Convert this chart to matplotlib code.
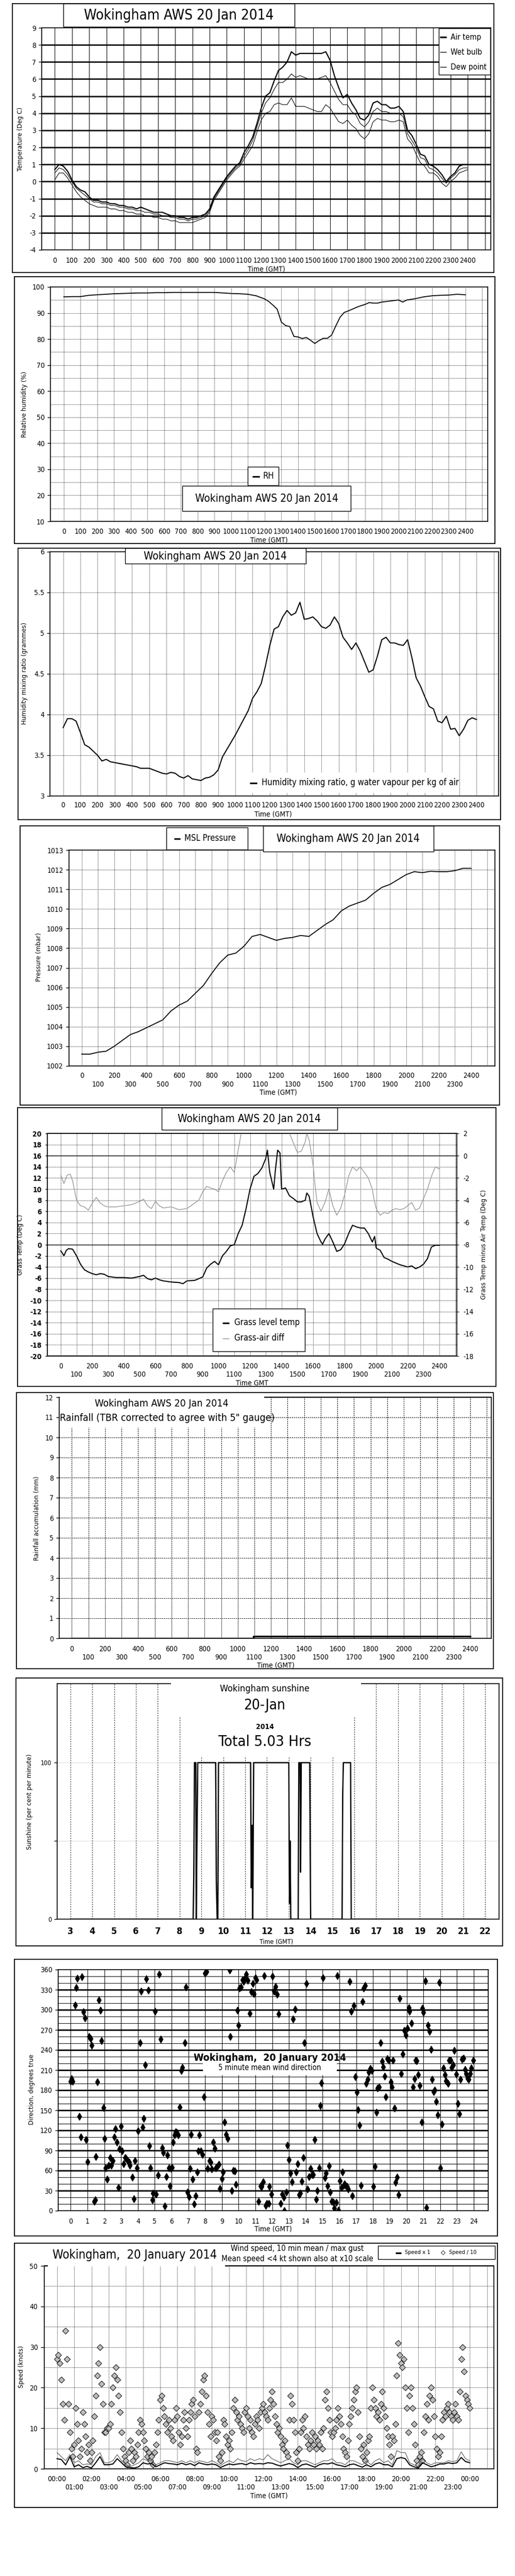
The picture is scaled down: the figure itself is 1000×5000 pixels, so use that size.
import numpy as np
import matplotlib
matplotlib.use('Agg')
import matplotlib.pyplot as plt
from matplotlib.patches import Rectangle
from matplotlib.lines import Line2D
from matplotlib.font_manager import FontProperties, fontManager

# ---------------- fonts ----------------
_names = {f.name for f in fontManager.ttflist}
if 'Liberation Sans Narrow' in _names:
    NF, NS = 'Liberation Sans Narrow', 'normal'
elif any('DejaVuSansCondensed' in f.fname for f in fontManager.ttflist):
    NF, NS = 'DejaVu Sans', 'condensed'
else:
    NF, NS = 'Liberation Sans', 'normal'
WF = 'DejaVu Sans'


def NP(size, weight='normal'):
    return FontProperties(family=NF, stretch=NS, size=size, weight=weight)


def WP(size):
    return FontProperties(family=WF, size=size)

# ---------------- data ----------------
# 15-minute grid, hours 0..24
t15 = [i * 0.25 for i in range(97)]

air_temp = [0.7, 1.0, 0.9, 0.6, 0.1, -0.3, -0.5, -0.6, -0.9, -1.1, -1.1, -1.2,
            -1.2, -1.3, -1.3, -1.4, -1.4, -1.5, -1.5, -1.6, -1.5, -1.6, -1.7, -1.8,
            -1.8, -1.8, -1.9, -2.0, -2.0, -2.1, -2.1, -2.2, -2.1, -2.1, -2.0, -1.9,
            -1.6, -0.9, -0.5, -0.1, 0.3, 0.6, 0.9, 1.1, 1.7, 2.1, 2.6, 3.4,
            4.3, 5.0, 5.2, 5.9, 6.5, 6.7, 7.0, 7.6, 7.4, 7.5, 7.5, 7.5,
            7.5, 7.5, 7.5, 7.6, 7.1, 6.2, 5.5, 4.9, 5.1, 4.6, 4.2, 3.7,
            3.6, 3.9, 4.6, 4.7, 4.5, 4.5, 4.3, 4.3, 4.4, 4.1, 3.0, 2.7,
            2.2, 1.6, 1.5, 1.0, 0.9, 0.7, 0.4, 0.0, 0.3, 0.5, 0.9, 1.0, 1.0]
wet_bulb = [0.5, 0.8, 0.7, 0.4, 0.0, -0.4, -0.6, -0.8, -1.0, -1.2, -1.2, -1.3,
            -1.3, -1.4, -1.4, -1.5, -1.5, -1.6, -1.6, -1.7, -1.7, -1.8, -1.8, -1.9,
            -1.9, -2.0, -2.0, -2.1, -2.1, -2.2, -2.2, -2.3, -2.2, -2.2, -2.1, -2.0,
            -1.7, -1.0, -0.6, -0.2, 0.2, 0.5, 0.8, 1.0, 1.5, 1.9, 2.4, 3.2,
            4.0, 4.6, 4.9, 5.4, 5.8, 5.8, 6.0, 6.3, 6.1, 6.2, 6.1, 6.0,
            6.0, 6.0, 6.1, 6.2, 5.8, 5.3, 4.8, 4.5, 4.5, 4.1, 3.9, 3.4,
            3.2, 3.5, 4.1, 4.3, 4.1, 4.1, 4.0, 4.0, 4.0, 3.8, 2.8, 2.4,
            2.0, 1.4, 1.3, 0.8, 0.7, 0.5, 0.2, -0.1, 0.2, 0.4, 0.7, 0.8, 0.8]
dew_point = [0.1, 0.5, 0.5, 0.2, -0.2, -0.6, -0.9, -1.1, -1.3, -1.4, -1.5, -1.5,
             -1.5, -1.6, -1.6, -1.7, -1.7, -1.8, -1.8, -1.9, -1.9, -2.0, -2.0, -2.1,
             -2.1, -2.2, -2.2, -2.3, -2.3, -2.4, -2.4, -2.4, -2.4, -2.3, -2.2, -2.1,
             -1.8, -1.1, -0.7, -0.3, 0.1, 0.4, 0.7, 0.9, 1.3, 1.7, 2.1, 2.9,
             3.6, 4.0, 4.1, 4.5, 4.6, 4.5, 4.5, 4.9, 4.4, 4.4, 4.4, 4.3,
             4.2, 4.1, 4.1, 4.5, 4.3, 3.9, 3.5, 3.4, 3.6, 3.3, 3.1, 2.7,
             2.5, 2.8, 3.5, 3.7, 3.6, 3.6, 3.5, 3.5, 3.6, 3.5, 2.5, 2.2,
             1.6, 1.1, 0.9, 0.5, 0.5, 0.3, -0.1, -0.3, 0.0, 0.2, 0.5, 0.6, 0.7]

rh_t = [0, 0.5, 1, 1.5, 2, 2.5, 3, 3.5, 4, 4.5, 5, 5.5, 6, 6.5, 7, 7.5, 8, 8.5, 9, 9.5,
        10, 10.5, 11, 11.5, 12, 12.25, 12.5, 12.75, 13, 13.25, 13.5, 13.75, 14, 14.25,
        14.5, 14.75, 15, 15.25, 15.5, 15.75, 16, 16.25, 16.5, 16.75, 17, 17.25, 17.5,
        17.75, 18, 18.25, 18.5, 18.75, 19, 19.5, 20, 20.25, 20.5, 21, 21.5, 22, 22.5,
        23, 23.5, 24]
rh_v = [96.2, 96.3, 96.3, 96.8, 97.0, 97.2, 97.4, 97.5, 97.6, 97.7, 97.7, 97.8, 97.8,
        97.9, 97.9, 97.9, 97.9, 97.9, 97.9, 97.7, 97.5, 97.4, 97.2, 96.6, 95.4,
        94.4, 93.0, 91.5, 86.5, 85.2, 84.8, 81.0, 80.8, 80.2, 80.6, 79.5, 78.3, 79.4,
        80.3, 80.3, 81.5, 85.0, 88.3, 90.2, 90.8, 91.5, 92.2, 92.8, 93.3, 94.0, 93.8,
        93.8, 94.2, 94.6, 95.0, 94.2, 95.0, 95.5, 96.2, 96.6, 96.8, 96.9, 97.2, 97.0]

mix_ratio = [3.84, 3.95, 3.95, 3.92, 3.78, 3.63, 3.60, 3.55, 3.50, 3.43, 3.45, 3.42,
             3.41, 3.40, 3.39, 3.38, 3.37, 3.36, 3.34, 3.34, 3.34, 3.32, 3.30, 3.28,
             3.27, 3.29, 3.28, 3.24, 3.22, 3.25, 3.21, 3.20, 3.19, 3.22, 3.23, 3.26,
             3.32, 3.48, 3.57, 3.66, 3.75, 3.85, 3.95, 4.05, 4.20, 4.28, 4.38, 4.60,
             4.85, 5.05, 5.08, 5.20, 5.28, 5.22, 5.25, 5.38, 5.17, 5.18, 5.20, 5.15,
             5.08, 5.06, 5.10, 5.20, 5.12, 4.95, 4.88, 4.80, 4.88, 4.78, 4.65, 4.52,
             4.55, 4.72, 4.92, 4.95, 4.88, 4.88, 4.86, 4.85, 4.92, 4.70, 4.45, 4.35,
             4.22, 4.10, 4.07, 3.92, 3.90, 3.98, 3.82, 3.83, 3.74, 3.82, 3.93, 3.96, 3.94]

t30 = [i * 0.5 for i in range(49)]
pressure = [1002.6, 1002.6, 1002.7, 1002.75, 1003.0, 1003.3, 1003.6, 1003.75, 1003.95,
            1004.15, 1004.35, 1004.8, 1005.1, 1005.3, 1005.7, 1006.1, 1006.7, 1007.25,
            1007.65, 1007.75, 1008.1, 1008.6, 1008.7, 1008.55, 1008.4, 1008.5, 1008.55,
            1008.65, 1008.6, 1008.9, 1009.2, 1009.45, 1009.9, 1010.15, 1010.3, 1010.45,
            1010.8, 1011.1, 1011.25, 1011.5, 1011.75, 1011.9, 1011.85, 1011.92, 1011.9,
            1011.9, 1011.95, 1012.07, 1012.07]

grass_t = [0.0, 0.1, 0.2, 0.35, 0.5, 0.75, 1.0, 1.25, 1.5, 1.75, 2.0, 2.25, 2.5, 2.75,
           3.0, 3.5, 4.0, 4.5, 5.0, 5.25, 5.5, 5.75, 6.0, 6.25, 6.5, 7.0, 7.5, 7.75, 8.0,
           8.5, 9.0, 9.25, 9.5, 9.75, 10.0, 10.25, 10.5, 10.75, 11.0, 11.25, 11.5, 11.75,
           12.0, 12.25, 12.5, 12.75, 13.0, 13.1, 13.25, 13.5, 13.6, 13.75, 13.9, 14.0,
           14.25, 14.5, 14.75, 15.0, 15.25, 15.5, 15.6, 15.75, 16.0, 16.25, 16.5, 16.6,
           16.75, 17.0, 17.25, 17.5, 17.75, 18.0, 18.25, 18.5, 18.75, 19.0, 19.25, 19.5,
           19.75, 19.9, 20.0, 20.25, 20.5, 20.75, 21.0, 21.25, 21.5, 21.75, 22.0, 22.25,
           22.5, 22.75, 23.0, 23.25, 23.5, 23.75, 24.0]
grass_v = [-1.1, -1.5, -2.0, -1.0, -0.7, -0.8, -2.0, -3.5, -4.5, -4.9, -5.2, -5.4, -5.2,
           -5.3, -5.7, -5.9, -5.9, -6.0, -5.7, -5.5, -6.1, -6.3, -6.0, -6.3, -6.5, -6.7,
           -6.8, -7.0, -6.5, -6.4, -5.8, -4.2, -3.5, -3.0, -3.6, -2.0, -1.2, -0.2, 0.0,
           2.0, 3.5, 6.5, 10.0, 12.3, 12.8, 13.8, 15.5, 17.0, 13.0, 10.0, 13.2, 17.0, 16.5,
           10.0, 10.2, 8.8, 8.3, 7.7, 7.7, 8.0, 9.3, 8.7, 5.0, 2.0, 0.5, 0.1, 1.0, 2.0, 0.5,
           -1.2, -0.9, 0.2, 2.0, 3.5, 3.2, 3.0, 3.0, 2.0, 0.5, 1.5, -0.6, -1.0, -2.3, -2.6,
           -3.0, -3.3, -3.6, -3.8, -4.0, -3.8, -4.3, -4.0, -3.5, -2.5, -0.4, -0.1, -0.1]

diff_t = [0.0, 0.2, 0.4, 0.6, 0.75, 1.0, 1.25, 1.5, 1.75, 2.0, 2.25, 2.5, 2.75, 3.0, 3.5,
          4.0, 4.5, 5.0, 5.25, 5.5, 5.75, 6.0, 6.25, 6.5, 7.0, 7.5, 8.0, 8.5, 8.75, 9.0,
          9.25, 9.5, 9.75, 10.0, 10.25, 10.5, 10.75, 11.0, 11.25, 11.5, 12.0, 13.0, 13.5,
          14.0, 14.5, 15.0, 15.25, 15.5, 15.6, 15.75, 16.0, 16.1, 16.25, 16.5, 16.75,
          17.0, 17.25, 17.5, 17.75, 18.0, 18.25, 18.5, 18.75, 19.0, 19.25, 19.5, 19.75,
          19.85, 20.0, 20.25, 20.5, 20.75, 21.0, 21.25, 21.5, 21.75, 22.0, 22.25, 22.5,
          22.75, 23.0, 23.25, 23.5, 23.75, 24.0]
diff_v = [-1.75, -2.5, -1.75, -1.65, -2.25, -4.0, -4.5, -4.6, -4.9, -4.25, -3.75, -4.25,
          -4.5, -4.6, -4.6, -4.5, -4.4, -4.1, -3.9, -4.5, -4.75, -4.1, -4.5, -4.7, -4.6,
          -4.85, -4.75, -4.25, -4.0, -3.25, -2.75, -2.9, -3.0, -3.25, -2.25, -1.5, -1.0,
          -1.5, 0.5, 2.5, 5.0, 9.0, 4.0, 2.6, 2.0, 0.3, 0.4, 1.25, 2.0, 1.4, -0.85, -2.35,
          -4.2, -5.0, -4.2, -3.0, -4.5, -5.35, -4.7, -3.5, -1.85, -1.0, -1.35, -1.0, -1.5,
          -2.0, -3.0, -3.85, -4.75, -5.35, -5.1, -5.2, -4.9, -4.75, -4.85, -4.75, -4.5,
          -4.2, -4.9, -4.7, -3.85, -3.0, -1.85, -1.0, -1.2]

rain_t = [0.0, 10.93, 10.93, 24.0]
rain_v = [0.0, 0.0, 0.1, 0.1]

sun_t = [3.0, 8.62, 8.65, 8.68, 8.74, 8.76, 8.80, 8.83, 9.65, 9.68, 9.72, 9.75, 9.78,
         11.25, 11.28, 11.32, 11.35, 11.39, 13.00, 13.03, 13.06, 13.09, 13.12, 13.43,
         13.46, 13.52, 13.54, 13.57, 13.96, 13.98, 14.00, 15.44, 15.47, 15.50, 15.83,
         15.86, 22.0]
sun_v = [0, 0, 30, 100, 100, 0, 60, 100, 100, 25, 0, 0, 100, 100, 20, 60, 0, 100, 100,
         10, 50, 0, 0, 0, 100, 100, 30, 100, 100, 45, 0, 0, 80, 100, 100, 0, 0]

# 5-minute mean wind direction observations (hour, degrees)
wind_dir_obs = [
    (0.00, 193), (0.05, 197), (0.10, 193), (0.26, 307), (0.32, 333), (0.40, 347), (0.50, 141),
    (0.60, 110), (0.67, 349), (0.75, 297), (0.85, 288), (0.91, 106), (0.99, 73), (1.09, 260),
    (1.17, 257), (1.25, 247), (1.39, 14), (1.45, 16), (1.50, 81), (1.58, 192), (1.68, 315),
    (1.76, 299), (1.84, 254), (1.94, 154), (2.00, 108), (2.08, 64), (2.18, 47), (2.26, 68),
    (2.34, 79), (2.42, 68), (2.50, 75), (2.59, 110), (2.67, 122), (2.75, 102), (2.83, 35),
    (2.91, 92), (3.00, 126), (3.07, 89), (3.15, 70), (3.23, 79), (3.31, 78), (3.39, 75),
    (3.47, 72), (3.52, 68), (3.66, 50), (3.76, 18), (3.82, 75), (3.94, 64), (4.02, 119),
    (4.12, 251), (4.18, 328), (4.28, 125), (4.34, 138), (4.43, 218), (4.51, 346), (4.61, 329),
    (4.67, 97), (4.75, 64), (4.85, 16), (4.91, 26), (5.01, 298), (5.09, 25), (5.19, 53),
    (5.27, 353), (5.37, 256), (5.45, 94), (5.50, 87), (5.60, 7), (5.70, 51), (5.76, 83),
    (5.86, 64), (5.92, 37), (5.98, 63), (6.04, 65), (6.10, 102), (6.18, 113), (6.24, 118),
    (6.32, 117), (6.40, 113), (6.50, 155), (6.57, 209), (6.65, 214), (6.81, 251), (6.87, 334),
    (6.95, 28), (7.03, 21), (7.09, 63), (7.17, 114), (7.27, 47), (7.35, 10), (7.43, 22),
    (7.52, 58), (7.58, 89), (7.66, 113), (7.76, 89), (7.84, 84), (7.92, 170), (8.00, 355),
    (8.08, 357), (8.16, 63), (8.26, 75), (8.32, 72), (8.40, 62), (8.48, 102), (8.57, 93),
    (8.65, 64), (8.73, 66), (8.81, 69), (8.89, 33), (8.99, 48), (9.07, 58), (9.15, 132),
    (9.25, 114), (9.33, 108), (9.45, 359), (9.50, 260), (9.60, 30), (9.68, 60), (9.78, 59),
    (9.84, 39), (9.92, 299), (10.00, 277), (10.06, 332), (10.14, 334), (10.22, 345),
    (10.30, 342), (10.38, 348), (10.46, 353), (10.55, 344), (10.67, 295), (10.75, 327),
    (10.83, 339), (10.91, 324), (10.99, 348), (11.07, 345), (11.19, 14), (11.29, 37),
    (11.37, 36), (11.45, 43), (11.52, 351), (11.60, 8), (11.68, 11), (11.78, 11), (11.84, 36),
    (11.94, 25), (12.02, 350), (12.10, 328), (12.20, 335), (12.28, 323), (12.38, 294),
    (12.51, 11), (12.59, 25), (12.67, 20), (12.73, 0), (12.85, 28), (12.91, 98), (12.99, 76),
    (13.09, 56), (13.17, 43), (13.25, 286), (13.35, 301), (13.43, 58), (13.50, 70),
    (13.60, 24), (13.68, 26), (13.76, 44), (13.84, 79), (13.92, 251), (14.02, 339),
    (14.10, 32), (14.20, 51), (14.28, 63), (14.36, 54), (14.44, 54), (14.51, 106), (14.61, 17),
    (14.69, 30), (14.79, 64), (14.85, 157), (14.93, 191), (15.03, 348), (15.13, 49),
    (15.19, 56), (15.29, 37), (15.37, 67), (15.45, 28), (15.54, 14), (15.62, 13), (15.70, 4),
    (15.80, 12), (15.86, 351), (15.94, 1), (16.02, 45), (16.12, 35), (16.18, 58), (16.24, 38),
    (16.30, 40), (16.38, 38), (16.46, 36), (16.53, 32), (16.61, 342), (16.69, 298),
    (16.77, 22), (16.87, 306), (16.95, 200), (17.03, 177), (17.11, 151), (17.19, 128),
    (17.29, 38), (17.37, 312), (17.45, 332), (17.52, 336), (17.60, 190), (17.68, 196),
    (17.76, 207), (17.84, 212), (17.92, 209), (18.02, 36), (18.10, 66), (18.20, 147),
    (18.28, 183), (18.36, 185), (18.46, 251), (18.53, 223), (18.61, 215), (18.69, 201),
    (18.77, 170), (18.85, 227), (18.93, 225), (19.05, 192), (19.11, 185), (19.19, 225),
    (19.27, 153), (19.33, 42), (19.43, 50), (19.52, 24), (19.60, 317), (19.68, 205),
    (19.78, 234), (19.86, 269), (19.94, 262), (20.04, 272), (20.14, 303), (20.18, 298),
    (20.30, 280), (20.38, 185), (20.46, 197), (20.53, 225), (20.61, 224), (20.69, 203),
    (20.77, 187), (20.89, 132), (20.93, 302), (21.01, 296), (21.13, 343), (21.19, 5),
    (21.27, 277), (21.37, 268), (21.45, 241), (21.52, 196), (21.60, 178), (21.68, 180),
    (21.76, 163), (21.84, 143), (21.94, 341), (22.02, 64), (22.10, 129), (22.18, 213),
    (22.28, 203), (22.34, 194), (22.46, 190), (22.53, 225), (22.61, 225), (22.69, 214),
    (22.77, 218), (22.85, 239), (22.95, 204), (23.05, 160), (23.13, 145), (23.21, 196),
    (23.29, 226), (23.39, 228), (23.47, 211), (23.54, 205), (23.62, 198), (23.70, 196),
    (23.78, 205), (23.86, 213), (23.96, 225)]
wd_hours = [p[0] for p in wind_dir_obs]
wd_deg = [p[1] for p in wind_dir_obs]

# wind speed: 5-minute "x10" diamonds, 15-minute mean and gust lines
t5 = [i / 12 for i in range(289)]
speed_x10 = [27, 28, 26, 22, 16, 12, 34, 27, 16, 9, 5, 3,
             6, 15, 11, 7, 3, 5, 14, 11, 8, 4, 6, 2,
             4, 7, 13, 18, 23, 26, 30, 21, 16, 9, 9, 10,
             10, 11, 16, 20, 23, 25, 22, 18, 14, 9, 5, 3,
             2, 1, 4, 7, 5, 2, 4, 3, 6, 9, 12, 11,
             9, 7, 5, 3, 4, 2, 3, 1, 4, 6, 9, 12,
             17, 18, 15, 13, 11, 9, 12, 10, 8, 7, 12, 15,
             13, 9, 6, 8, 12, 14, 10, 8, 12, 14, 16, 17,
             13, 5, 4, 14, 16, 19, 22, 23, 18, 14, 11, 8,
             13, 12, 9, 7, 9, 3, 2, 4, 12, 11, 8, 6,
             7, 5, 9, 15, 17, 14, 12, 13, 11, 10, 9, 14,
             15, 13, 10, 12, 9, 8, 11, 13, 12, 10, 14, 15,
             16, 14, 13, 12, 15, 17, 19, 16, 13, 11, 9, 10,
             8, 6, 5, 7, 4, 3, 12, 18, 16, 12, 9, 4,
             2, 5, 9, 12, 10, 13, 8, 6, 5, 7, 9, 6,
             8, 5, 7, 6, 9, 5, 10, 17, 19, 15, 12, 9,
             8, 9, 10, 12, 15, 13, 11, 8, 5, 4, 3, 7,
             11, 13, 15, 17, 19, 20, 14, 8, 5, 3, 6, 2,
             4, 7, 8, 15, 20, 17, 15, 13, 14, 12, 16, 19,
             15, 13, 10, 8, 6, 3, 8, 7, 11, 23, 31, 28,
             26, 25, 27, 20, 15, 9, 18, 20, 15, 11, 6, 2,
             1, 3, 4, 2, 9, 13, 16, 12, 18, 20, 17, 13,
             8, 5, 3, 4, 8, 12, 14, 13, 15, 16, 14, 13,
             12, 14, 16, 13, 12, 19, 27, 30, 24, 18, 17, 16,
             15]
mean_speed = [2.5, 2.3, 1.0, 3.0, 0.5, 1.0, 0.3, 0.6, 0.2, 1.5, 3.0, 1.0,
              1.0, 1.2, 2.5, 1.5, 0.5, 0.3, 0.2, 0.5, 1.5, 1.2, 1.3, 0.5,
              1.0, 1.5, 1.3, 1.2, 1.0, 1.4, 1.0, 1.3, 0.8, 1.5, 1.2, 1.0,
              1.2, 1.0, 0.3, 0.8, 1.2, 1.0, 1.2, 1.3, 1.0, 1.5, 1.2, 1.3,
              1.2, 1.5, 1.4, 1.0, 0.7, 1.0, 1.3, 1.0, 0.3, 1.0, 1.2, 0.8,
              0.4, 1.0, 1.3, 1.2, 1.5, 1.0, 0.8, 0.5, 1.0, 1.2, 0.8, 0.4,
              1.0, 0.5, 1.2, 1.5, 1.0, 1.0, 0.5, 2.5, 2.8, 2.5, 1.0, 0.5,
              0.2, 1.5, 1.0, 0.5, 0.8, 1.2, 1.2, 1.5, 1.3, 1.5, 2.8, 1.8, 1.5]
gust_speed = [4.0, 3.0, 2.0, 3.5, 1.5, 2.0, 1.0, 1.2, 1.0, 3.0, 4.0, 1.5,
              1.5, 2.0, 3.5, 2.0, 1.0, 0.5, 1.0, 1.5, 2.5, 2.0, 2.0, 1.0,
              1.5, 2.0, 2.0, 1.8, 1.5, 2.0, 1.5, 2.0, 1.5, 2.0, 1.8, 1.5,
              2.0, 1.5, 0.8, 1.5, 2.0, 1.5, 2.5, 2.0, 1.8, 2.5, 2.0, 2.5,
              2.2, 3.5, 2.5, 2.0, 1.5, 2.0, 2.5, 1.5, 1.0, 2.0, 2.0, 1.5,
              1.0, 1.5, 2.0, 2.0, 2.5, 1.5, 1.5, 1.0, 2.0, 2.0, 1.5, 1.0,
              2.0, 1.0, 2.0, 2.5, 1.5, 2.0, 1.0, 4.5, 4.0, 4.0, 1.5, 1.0,
              0.5, 2.5, 1.5, 1.0, 1.5, 1.5, 1.5, 2.0, 1.8, 2.0, 4.2, 2.5, 2.0]

hhmm_labels = [str(h * 100) for h in range(25)]

# ---------------- figure helpers ----------------
W, H = 1000, 5000
fig = plt.figure(figsize=(W / 100, H / 100), dpi=100)
fig.patch.set_facecolor('white')


def add_ax(x0, y0, x1, y1):
    ax = fig.add_axes([x0 / W, 1 - y1 / H, (x1 - x0) / W, (y1 - y0) / H])
    for s in ax.spines.values():
        s.set_linewidth(1.2)
        s.set_color('black')
    ax.set_facecolor('white')
    return ax


def box(x0, y0, x1, y1, edge=True, lw=1.0, z=4):
    fig.add_artist(Rectangle((x0 / W, 1 - y1 / H), (x1 - x0) / W, (y1 - y0) / H,
                             transform=fig.transFigure, facecolor='white',
                             edgecolor='black' if edge else 'none', lw=lw, zorder=z))


def frame(x0, y0, x1, y1):
    fig.add_artist(Rectangle((x0 / W, 1 - y1 / H), (x1 - x0) / W, (y1 - y0) / H,
                             transform=fig.transFigure, fill=False,
                             edgecolor='black', lw=1.3, zorder=6))


def ftext(x, y, s, size, weight='normal', ha='center', va='center', wide=False, rot=0,
          color='black'):
    fp = WP(size) if wide else NP(size, weight)
    fig.text(x / W, 1 - y / H, s, fontproperties=fp, ha=ha, va=va, rotation=rot,
             color=color, zorder=7)


def fline(x0, y0, x1, y1, lw, color='black'):
    fig.add_artist(Line2D([x0 / W, x1 / W], [1 - y0 / H, 1 - y1 / H],
                          transform=fig.transFigure, lw=lw, color=color, zorder=7,
                          solid_capstyle='butt'))


def xticks(ax, ticks, labels, size=10, weight='normal', pad=10):
    ax.set_xticks(ticks)
    ax.set_xticklabels(labels)
    ax.tick_params(axis='x', length=0, pad=pad)
    for l in ax.get_xticklabels():
        l.set_fontproperties(NP(size, weight))


def yticks(ax, ticks, labels, size=10, weight='normal', pad=4, length=4):
    ax.set_yticks(ticks)
    ax.set_yticklabels(labels)
    ax.tick_params(axis='y', length=length, pad=pad, direction='out', width=1)
    for l in ax.get_yticklabels():
        l.set_fontproperties(NP(size, weight))


def two_row(labels):
    return [lab if i % 2 == 0 else '\n' + lab for i, lab in enumerate(labels)]


DOT = dict(color='black', lw=0.7, ls=(0, (1, 1.5)), zorder=1)

# ================= Panel 1: temperatures =================
ax = add_ax(81, 54, 953, 485)
ax.set_xlim(-0.76, 25.34)
ax.set_ylim(-4, 9)
for v in range(-3, 9):
    ax.axhline(v, color='black', lw=1.9, zorder=1)
for hh in range(0, 26):
    ax.axvline(hh, color='black', lw=0.7, zorder=1)
ax.plot(t15, dew_point, color='black', lw=0.8, zorder=3)
ax.plot(t15, wet_bulb, color='black', lw=0.8, zorder=3)
ax.plot(t15, air_temp, color='black', lw=1.6, zorder=4)
xticks(ax, range(25), hhmm_labels, pad=10)
yticks(ax, range(-4, 10), [str(v) for v in range(-4, 10)])
ftext(517, 522, 'Time (GMT)', 10)
ftext(40, 270, 'Temperature (Deg C)', 8.5, wide=True, rot=90)
box(123, 7, 572, 52)
ftext(347, 30, 'Wokingham AWS 20 Jan 2014', 20)
box(852, 55, 952, 145)
fline(854, 72, 867, 72, 2.2)
fline(854, 101, 867, 101, 0.9)
fline(854, 130, 867, 130, 0.9)
ftext(875, 72, 'Air temp', 11, ha='left')
ftext(875, 101, 'Wet bulb', 11, ha='left')
ftext(875, 130, 'Dew point', 11, ha='left')
frame(24, 7, 959, 529)

# ================= Panel 2: relative humidity =================
ax = add_ax(98, 557, 947, 1012)
ax.set_xlim(-0.797, 25.33)
ax.set_ylim(10, 100)
for v in range(15, 100, 5):
    ax.axhline(v, **DOT)
for hh in range(0, 26):
    ax.axvline(hh, **DOT)
ax.plot(rh_t, rh_v, color='black', lw=1.3, zorder=3)
xticks(ax, range(25), hhmm_labels, pad=9)
yticks(ax, range(10, 101, 10), [str(v) for v in range(10, 101, 10)])
ftext(522, 1048, 'Time (GMT)', 10)
ftext(47, 785, 'Relative humidity (%)', 8.5, wide=True, rot=90)
box(481, 906, 541, 942)
fline(490, 925, 504, 925, 2.2)
ftext(511, 924, 'RH', 12, ha='left')
box(354, 943, 681, 992)
ftext(518, 968, 'Wokingham AWS 20 Jan 2014', 15)
frame(28, 537, 961, 1055)

# ================= Panel 3: mixing ratio =================
ax = add_ax(97, 1071, 968, 1545)
ax.set_xlim(-0.766, 25.28)
ax.set_ylim(3, 6)
for v in [3.5, 4, 4.5, 5, 5.5]:
    ax.axhline(v, **DOT)
for hh in range(0, 26):
    ax.axvline(hh, **DOT)
ax.plot(t15, mix_ratio, color='black', lw=1.5, zorder=3)
xticks(ax, range(25), hhmm_labels, pad=8)
yticks(ax, [3, 3.5, 4, 4.5, 5, 5.5, 6], ['3', '3.5', '4', '4.5', '5', '5.5', '6'])
ftext(530, 1581, 'Time (GMT)', 10)
ftext(48, 1307, 'Humidity mixing ratio (grammes)', 8.5, wide=True, rot=90)
box(243, 1064, 594, 1094)
ftext(418, 1080, 'Wokingham AWS 20 Jan 2014', 15)
box(477, 1499, 881, 1539, edge=False)
fline(485, 1520, 499, 1520, 2.2)
ftext(508, 1519, 'Humidity mixing ratio, g water vapour per kg of air', 12, ha='left')
frame(35, 1064, 972, 1591)

# ================= Panel 4: pressure =================
ax = add_ax(134, 1650, 961, 2069)
ax.set_xlim(-0.784, 25.47)
ax.set_ylim(1002, 1013)
for v in range(1003, 1013):
    ax.axhline(v, **DOT)
for hh in range(0, 26):
    ax.axvline(hh, **DOT)
ax.plot(t30, pressure, color='black', lw=1.3, zorder=3)
xticks(ax, range(25), two_row(hhmm_labels), pad=9)
yticks(ax, range(1002, 1014), [str(v) for v in range(1002, 1014)])
ftext(540, 2121, 'Time (GMT)', 10)
ftext(76, 1858, 'Pressure (mbar)', 8.5, wide=True, rot=90)
box(323, 1606, 481, 1649)
fline(338, 1628, 350, 1628, 2.2)
ftext(358, 1627, 'MSL Pressure', 12, ha='left')
box(511, 1603, 842, 1653)
ftext(676, 1628, 'Wokingham AWS 20 Jan 2014', 15)
frame(39, 1603, 970, 2145)

# ================= Panel 5: grass temperature =================
ax = add_ax(92, 2200, 887, 2632)
ax.set_xlim(-0.849, 25.11)
ax.set_ylim(-20, 20)
for v in range(-18, 20, 2):
    if v in (0, 16):
        ax.axhline(v, color='black', lw=1.0, zorder=1)
    else:
        ax.axhline(v, **DOT)
for hh in range(0, 26):
    ax.axvline(hh, **DOT)
ax.plot(grass_t, grass_v, color='black', lw=1.5, zorder=4)
xticks(ax, range(25), two_row(hhmm_labels), pad=9)
yticks(ax, range(-20, 21, 2), [str(v) for v in range(-20, 21, 2)], weight='bold',
       length=3, pad=5)
axr = ax.twinx()
axr.set_ylim(-18, 2)
axr.plot(diff_t, diff_v, color='#8c8c8c', lw=0.9, zorder=3)
axr.set_yticks(range(-18, 3, 2))
axr.set_yticklabels([str(v) for v in range(-18, 3, 2)])
axr.tick_params(axis='y', length=3, pad=6)
for l in axr.get_yticklabels():
    l.set_fontproperties(NP(10))
for s in axr.spines.values():
    s.set_linewidth(1.2)
ftext(489, 2685, 'Time GMT', 10)
ftext(40, 2416, 'Grass Temp (Deg C)', 8.5, wide=True, rot=90)
ftext(939, 2416, 'Grass Temp minus Air Temp (Deg C)', 8.5, wide=True, rot=90)
box(314, 2150, 655, 2193)
ftext(484, 2172, 'Wokingham AWS 20 Jan 2014', 15)
box(413, 2540, 592, 2623)
fline(432, 2568, 445, 2568, 2.2)
fline(432, 2598, 445, 2598, 1.0, color='#8c8c8c')
ftext(455, 2567, 'Grass level temp', 12, ha='left')
ftext(455, 2597, 'Grass-air diff', 12, ha='left')
frame(34, 2150, 963, 2691)

# ================= Panel 6: rainfall =================
ax = add_ax(115, 2712, 954, 3180)
ax.set_xlim(-0.757, 25.27)
ax.set_ylim(0, 12)
DASH = dict(color='black', lw=0.7, ls=(0, (2.5, 1.5)), zorder=1)
for v in range(1, 12):
    ax.axhline(v, **DASH)
for hh in range(0, 26):
    ax.axvline(hh, **DASH)
ax.plot(rain_t, rain_v, color='black', lw=2.4, zorder=3)
ax.spines['top'].set_visible(False)
xticks(ax, range(25), two_row(hhmm_labels), pad=10)
yticks(ax, range(0, 13), [str(v) for v in range(0, 13)])
box(116, 2712, 513, 2771, edge=False)
fline(513, 2712, 954, 2712, 1.6)
ftext(314, 2725, 'Wokingham AWS 20 Jan 2014', 14)
ftext(116, 2752, 'Rainfall (TBR corrected to agree with 5" gauge)', 14, ha='left')
ftext(535, 3233, 'Time (GMT)', 10)
ftext(72, 2947, 'Rainfall accumulation (mm)', 8.5, wide=True, rot=90)
frame(32, 2703, 958, 3239)

# ================= Panel 7: sunshine =================
ax = add_ax(111, 3268, 969, 3725)
ax.set_xlim(2.39, 22.63)
ax.set_ylim(0, 150.5)
for v in (50, 100):
    ax.axhline(v, color='#a0a0a0', lw=0.7, ls=(0, (1, 1.5)), zorder=1)
for hh in range(3, 23):
    ax.axvline(hh, color='black', lw=0.6, ls=(0, (3, 2.5)), zorder=1)
ax.plot(sun_t, sun_v, color='black', lw=1.8, zorder=3)
xticks(ax, range(3, 23), [str(v) for v in range(3, 23)], size=13, weight='bold', pad=11)
yticks(ax, [0, 50, 100], ['0', '', '100'], size=9)
box(332, 3266, 701, 3333, edge=False)
box(351, 3333, 686, 3409, edge=False)
ftext(514, 3278, 'Wokingham sunshine', 13)
ftext(514, 3310, '20-Jan', 20)
ftext(514, 3352, '2014', 10, weight='bold')
ftext(514, 3381, 'Total 5.03 Hrs', 21)
ftext(537, 3769, 'Time (GMT)', 9)
ftext(58, 3497, 'Sunshine (per cent per minute)', 8.5, wide=True, rot=90)
frame(31, 3257, 976, 3777)

# ================= Panel 8: wind direction =================
ax = add_ax(113, 3823, 948, 4291)
ax.set_xlim(-0.748, 24.86)
ax.set_ylim(0, 360)
for v in range(10, 360, 10):
    if v % 30 == 0:
        ax.axhline(v, color='black', lw=2.0, zorder=1)
    else:
        ax.axhline(v, color='black', lw=0.7, zorder=1)
for hh in range(0, 25):
    ax.axvline(hh, color='black', lw=0.7, zorder=1)
ax.plot(wd_hours, wd_deg, ls='none', marker='d', ms=7.5, color='black', zorder=3)
xticks(ax, range(25), [str(v) for v in range(25)], pad=10)
yticks(ax, range(0, 361, 30), [str(v) for v in range(0, 361, 30)])
box(394, 3981, 654, 4028, edge=False)
ftext(524, 3994, 'Wokingham,  20 January 2014', 14, weight='bold')
ftext(524, 4014, '5 minute mean wind direction', 10.5)
ftext(530, 4327, 'Time (GMT)', 10)
ftext(61, 4056, 'Direction, degrees true', 8.5, wide=True, rot=90)
frame(28, 3803, 966, 4340)

# ================= Panel 9: wind speed =================
ax = add_ax(86, 4398, 959, 4792)
ax.set_xlim(-0.74, 25.4)
ax.set_ylim(0, 50)
for v in range(5, 50, 5):
    ax.axhline(v, **DOT)
for hh in range(0, 26):
    ax.axvline(hh, **DOT)
ax.plot(t5, speed_x10, ls='none', marker='D', ms=6.3, mfc='#bcbcbc', mec='black',
        mew=0.7, zorder=3)
ax.plot(t15, gust_speed, color='#505050', lw=0.8, zorder=4)
ax.plot(t15, mean_speed, color='black', lw=1.5, zorder=5)
ax.spines['top'].set_visible(False)
hm = ['%02d:00' % (h % 24) for h in range(25)]
xticks(ax, range(25), two_row(hm), pad=9)
yticks(ax, range(0, 51, 10), [str(v) for v in range(0, 51, 10)], length=5)
fline(437, 4398, 959, 4398, 1.6)
fline(86, 4398, 93, 4398, 1.6)
ftext(262, 4377, 'Wokingham,  20 January 2014', 17)
ftext(577, 4365, 'Wind speed, 10 min mean / max gust', 11)
ftext(577, 4384, 'Mean speed <4 kt shown also at x10 scale', 11)
box(734, 4359, 961, 4385)
fline(768, 4373, 779, 4373, 2.4)
ftext(786, 4372, 'Speed x 1', 8, ha='left')
fig.add_artist(Line2D([860 / W], [1 - 4372 / H], transform=fig.transFigure, ls='none',
                      marker='D', ms=4.5, mfc='white', mec='black', mew=0.6, zorder=7))
ftext(872, 4372, 'Speed / 10', 8, ha='left')
ftext(522, 4844, 'Time (GMT)', 10)
ftext(42, 4594, 'Speed (knots)', 8.5, wide=True, rot=90)
frame(28, 4354, 966, 4867)

fig.savefig('out.png', dpi=100, facecolor='white')
